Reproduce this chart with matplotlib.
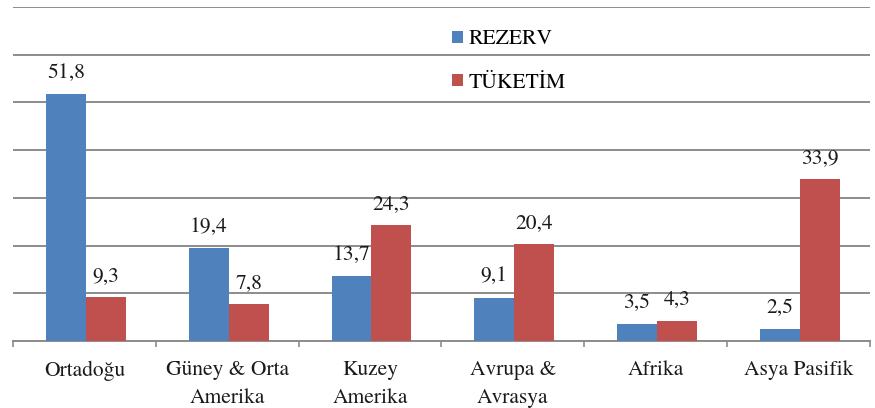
import matplotlib
matplotlib.use("Agg")
import matplotlib.pyplot as plt
import numpy as np

regions = ["Ortadoğu", "Güney & Orta\nAmerika", "Kuzey\nAmerika",
           "Avrupa &\nAvrasya", "Afrika", "Asya Pasifik"]
rezerv = [51.8, 19.4, 13.7, 9.1, 3.5, 2.5]
tuketim = [9.3, 7.8, 24.3, 20.4, 4.3, 33.9]

BLUE = "#4F81BD"
RED = "#C0504D"
GRID = "#8C8C8C"
TXT = "#1A1A1A"
FS = 15.5

plt.rcParams["font.family"] = ["TeX Gyre Termes", "Liberation Serif", "DejaVu Serif"]

fig = plt.figure(figsize=(8.75, 4.08), dpi=100)
ax = fig.add_axes([0.015, 0.164, 0.979, 0.819])

x = np.arange(len(regions))
w = 0.28
b1 = ax.bar(x - w / 2 + 0.01, rezerv, w, color=BLUE, label="REZERV", zorder=3)
b2 = ax.bar(x + w / 2 + 0.01, tuketim, w, color=RED, label="TÜKETİM", zorder=3)

fmt = lambda vals: [("%.1f" % v).replace(".", ",") for v in vals]
ax.bar_label(b1, labels=fmt(rezerv), padding=8, fontsize=FS, color=TXT)
ax.bar_label(b2, labels=fmt(tuketim), padding=8, fontsize=FS, color=TXT)

ax.set_xlim(-0.5, len(regions) - 0.5)
ax.set_ylim(0, 70)
ax.set_yticks(np.arange(0, 71, 10))
ax.yaxis.grid(True, color=GRID, linewidth=1.4)
ax.tick_params(axis="y", left=False, labelleft=False)

ax.set_xticks(x)
ax.set_xticklabels(regions, fontsize=FS, color=TXT, linespacing=1.5)
ax.tick_params(axis="x", which="major", length=0, pad=14)
ax.set_xticks(np.arange(-0.5, len(regions)), minor=True)
ax.tick_params(axis="x", which="minor", length=4, width=1.2, color=GRID)

for s in ["left", "right", "top"]:
    ax.spines[s].set_visible(False)
ax.spines["bottom"].set_color(GRID)
ax.spines["bottom"].set_linewidth(1.4)
ax.set_axisbelow(True)

ax.legend(loc="upper left", bbox_to_anchor=(0.49, 0.99), frameon=False,
          prop={"size": FS}, handlelength=0.5, handleheight=0.5,
          handletextpad=0.25, labelspacing=1.1)

fig.savefig("out.png", dpi=100)
